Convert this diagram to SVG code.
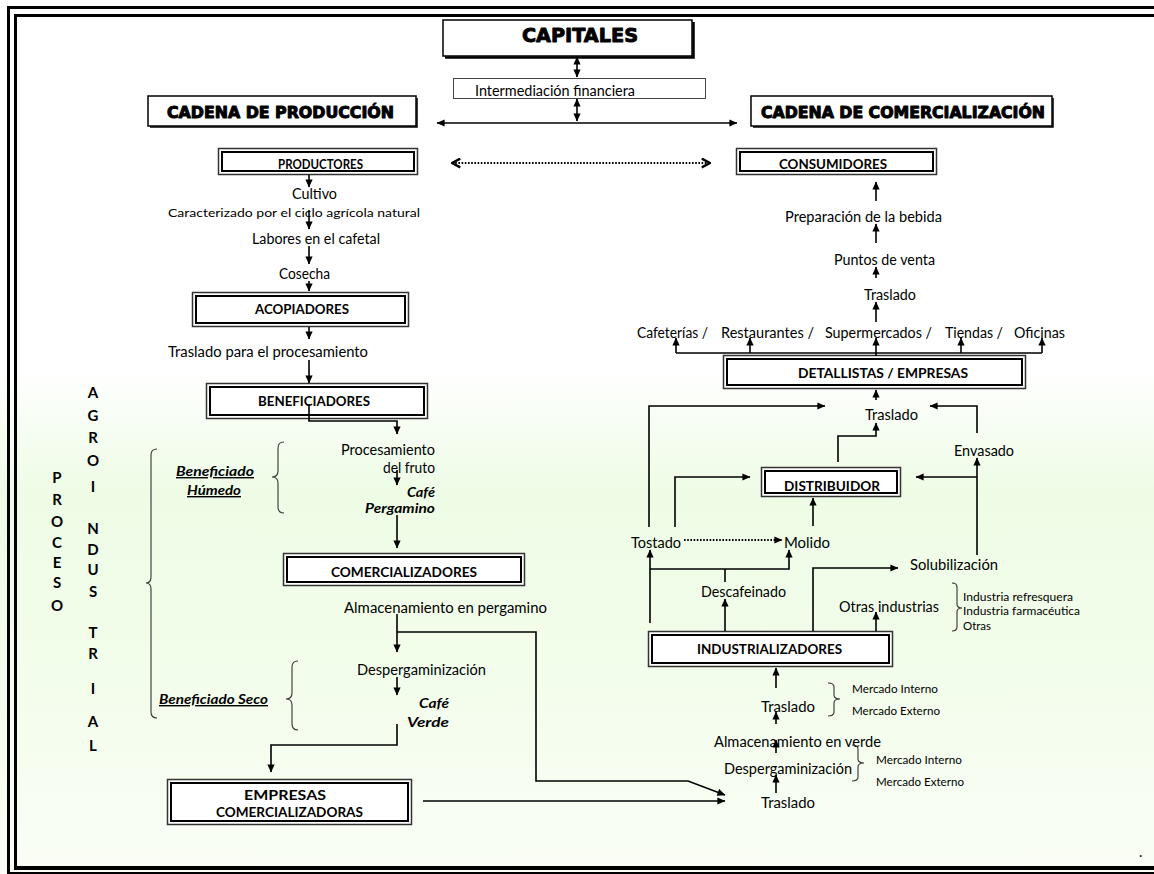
<svg xmlns="http://www.w3.org/2000/svg" width="1154" height="874" viewBox="0 0 1154 874">
<defs>
<linearGradient id="bg" x1="0" y1="0" x2="0" y2="1">
<stop offset="0" stop-color="#ffffff"/>
<stop offset="0.42" stop-color="#ffffff"/>
<stop offset="0.56" stop-color="#eefce6"/>
<stop offset="0.72" stop-color="#f1fde9"/>
<stop offset="1" stop-color="#fafef6"/>
</linearGradient>
<marker id="ah" viewBox="0 0 10 10" refX="9.5" refY="5" markerWidth="9" markerHeight="8" markerUnits="userSpaceOnUse" orient="auto-start-reverse">
<path d="M0,0.5 L10,5 L0,9.5 z" fill="#000"/>
</marker>
<marker id="ch" viewBox="0 0 10 10" refX="9" refY="5" markerWidth="11" markerHeight="11" markerUnits="userSpaceOnUse" orient="auto-start-reverse">
<path d="M1.5,1 L9,5 L1.5,9" fill="none" stroke="#000" stroke-width="2.2"/>
</marker>
</defs>
<style>
.ln{fill:none;stroke:#000;stroke-width:1.6}
.ar{marker-end:url(#ah)}
.da{marker-start:url(#ah);marker-end:url(#ah)}
.dot{fill:none;stroke:#000;stroke-width:1.8;stroke-dasharray:1.6 1.6}
.br{fill:none;stroke:#333;stroke-width:1.1}
.ob{fill:#fff;stroke:#333;stroke-width:1.5}
.ib{fill:none;stroke:#000;stroke-width:2}
.sb{fill:#fff;stroke:#000;stroke-width:1.5}
text{font-family:Lato,"Open Sans",sans-serif;fill:#000}
.m{font-size:14.5px}
.sm{font-size:12px}
.xs{font-size:11px}
.bx{font-size:13px;font-weight:bold}
.hd{font-family:"DejaVu Sans",sans-serif;font-weight:bold;stroke:#000;stroke-width:0.95;stroke-linejoin:round}
.bi{font-weight:bold;font-style:italic;font-size:14px}
.u{text-decoration:underline}
.lt{font-weight:bold;font-size:15px;text-anchor:middle}
</style>

<rect x="0" y="0" width="1154" height="874" fill="url(#bg)"/>

<g id="frame" fill="none" stroke="#000">
<path d="M7,7.5 H1154" stroke-width="3"/>
<path d="M8.5,6 V874" stroke-width="3"/>
<path d="M14,15.5 H1154" stroke-width="3"/>
<path d="M15.5,14 V868" stroke-width="3"/>
<path d="M14,868 H1154" stroke-width="4"/>
<path d="M7,873 H1154" stroke-width="2"/>
</g>

<g id="capitales">
<rect class="sb" x="443" y="20" width="249" height="36"/>
<path d="M693.5,22 V57.5 H445" fill="none" stroke="#000" stroke-width="2.5"/>
<text class="hd" x="522" y="42" font-size="20" textLength="116" lengthAdjust="spacingAndGlyphs">CAPITALES</text>
</g>

<g id="intermediacion">
<rect x="453.5" y="78.5" width="252" height="20" fill="#fff" stroke="#444" stroke-width="1"/>
<text class="m" x="475" y="96" font-size="14" textLength="160" lengthAdjust="spacingAndGlyphs">Intermediación financiera</text>
</g>

<g id="cadena-produccion">
<rect class="sb" x="148" y="96" width="268" height="30"/>
<path d="M417,98 V127 H150" fill="none" stroke="#000" stroke-width="1.5"/>
<text class="hd" x="167" y="118" font-size="15" textLength="227" lengthAdjust="spacingAndGlyphs">CADENA DE PRODUCCIÓN</text>
</g>

<g id="cadena-comercializacion">
<rect class="sb" x="751" y="96" width="301" height="30"/>
<path d="M1053,98 V127 H753" fill="none" stroke="#000" stroke-width="1.5"/>
<text class="hd" x="761" y="118" font-size="15" textLength="284" lengthAdjust="spacingAndGlyphs">CADENA DE COMERCIALIZACIÓN</text>
</g>

<g id="productores">
<rect class="ob" x="218.5" y="148.5" width="199" height="26"/>
<rect class="ib" x="222" y="152" width="192" height="19"/>
<text class="bx" x="278" y="169" textLength="85" lengthAdjust="spacingAndGlyphs">PRODUCTORES</text>
</g>

<g id="consumidores">
<rect class="ob" x="736.5" y="148.5" width="200" height="26"/>
<rect class="ib" x="740" y="152" width="193" height="19"/>
<text class="bx" x="779" y="169" textLength="108" lengthAdjust="spacingAndGlyphs">CONSUMIDORES</text>
</g>

<g id="acopiadores">
<rect class="ob" x="192.5" y="292.5" width="216" height="34"/>
<rect class="ib" x="196" y="296" width="209" height="27"/>
<text class="bx" x="255" y="314" textLength="94" lengthAdjust="spacingAndGlyphs">ACOPIADORES</text>
</g>

<g id="beneficiadores">
<rect class="ob" x="206.5" y="383.5" width="221" height="35"/>
<rect class="ib" x="210" y="387" width="214" height="28"/>
<text class="bx" x="258" y="406" textLength="112" lengthAdjust="spacingAndGlyphs">BENEFICIADORES</text>
</g>

<g id="comercializadores">
<rect class="ob" x="283.5" y="553.5" width="241" height="32"/>
<rect class="ib" x="287" y="557" width="234" height="25"/>
<text class="bx" x="331" y="577" textLength="146" lengthAdjust="spacingAndGlyphs">COMERCIALIZADORES</text>
</g>

<g id="empresas-comercializadoras">
<rect class="ob" x="167.5" y="779.5" width="244" height="45"/>
<rect class="ib" x="171" y="783" width="237" height="38"/>
<text class="bx" x="244" y="800" textLength="82" lengthAdjust="spacingAndGlyphs">EMPRESAS</text>
<text class="bx" x="216" y="817" textLength="147" lengthAdjust="spacingAndGlyphs">COMERCIALIZADORAS</text>
</g>

<g id="detallistas">
<rect class="ob" x="723.5" y="355.5" width="302" height="33"/>
<rect class="ib" x="727" y="359" width="295" height="26"/>
<text class="bx" x="798" y="378" textLength="170" lengthAdjust="spacingAndGlyphs">DETALLISTAS  / EMPRESAS</text>
</g>

<g id="distribuidor">
<rect class="ob" x="761.5" y="467.5" width="139" height="29"/>
<rect class="ib" x="765" y="471" width="132" height="22"/>
<text class="bx" x="784" y="491" textLength="96" lengthAdjust="spacingAndGlyphs">DISTRIBUIDOR</text>
</g>

<g id="industrializadores">
<rect class="ob" x="648.5" y="631.5" width="244" height="35"/>
<rect class="ib" x="652" y="635" width="237" height="28"/>
<text class="bx" x="697" y="654" textLength="145" lengthAdjust="spacingAndGlyphs">INDUSTRIALIZADORES</text>
</g>

<g id="labels-left">
<text class="m" x="292" y="199" textLength="45" lengthAdjust="spacingAndGlyphs">Cultivo</text>
<text class="sm" x="168" y="217" textLength="252" lengthAdjust="spacingAndGlyphs">Caracterizado por el ciclo agrícola natural</text>
<text class="m" x="252" y="244" textLength="128" lengthAdjust="spacingAndGlyphs">Labores en el cafetal</text>
<text class="m" x="279" y="279" textLength="51" lengthAdjust="spacingAndGlyphs">Cosecha</text>
<text class="m" x="168" y="357" textLength="200" lengthAdjust="spacingAndGlyphs">Traslado para el procesamiento</text>
<text class="m" x="341" y="455" textLength="94" lengthAdjust="spacingAndGlyphs">Procesamiento</text>
<text class="m" x="383" y="473" textLength="52" lengthAdjust="spacingAndGlyphs">del fruto</text>
<text class="bi" x="407" y="497" textLength="28" lengthAdjust="spacingAndGlyphs">Café</text>
<text class="bi" x="365" y="513" textLength="70" lengthAdjust="spacingAndGlyphs">Pergamino</text>
<text class="m" x="344" y="613" textLength="203" lengthAdjust="spacingAndGlyphs">Almacenamiento en pergamino</text>
<text class="m" x="357" y="675" textLength="129" lengthAdjust="spacingAndGlyphs">Despergaminización</text>
<text class="bi" x="419" y="708" textLength="30" lengthAdjust="spacingAndGlyphs">Café</text>
<text class="bi" x="407" y="727" textLength="42" lengthAdjust="spacingAndGlyphs">Verde</text>
<text class="bi u" x="176" y="476" textLength="78" lengthAdjust="spacingAndGlyphs">Beneficiado</text>
<text class="bi u" x="187" y="495" textLength="54" lengthAdjust="spacingAndGlyphs">Húmedo</text>
<text class="bi u" x="159" y="704" textLength="109" lengthAdjust="spacingAndGlyphs">Beneficiado Seco</text>
</g>

<g id="proceso-agroindustrial">
<text class="lt" x="57"><tspan x="57" y="483">P</tspan><tspan x="57" y="505">R</tspan><tspan x="57" y="527">O</tspan><tspan x="57" y="548">C</tspan><tspan x="57" y="568">E</tspan><tspan x="57" y="588">S</tspan><tspan x="57" y="611">O</tspan></text>
<text class="lt" x="93"><tspan x="93" y="398">A</tspan><tspan x="93" y="421">G</tspan><tspan x="93" y="443">R</tspan><tspan x="93" y="466">O</tspan><tspan x="93" y="492">I</tspan><tspan x="93" y="534">N</tspan><tspan x="93" y="555">D</tspan><tspan x="93" y="575">U</tspan><tspan x="93" y="597">S</tspan><tspan x="93" y="638">T</tspan><tspan x="93" y="659">R</tspan><tspan x="93" y="694">I</tspan><tspan x="93" y="727">A</tspan><tspan x="93" y="751">L</tspan></text>
</g>

<g id="labels-right">
<text class="m" x="785" y="222" textLength="157" lengthAdjust="spacingAndGlyphs">Preparación de la bebida</text>
<text class="m" x="834" y="265" textLength="101" lengthAdjust="spacingAndGlyphs">Puntos de venta</text>
<text class="m" x="864" y="300" textLength="52" lengthAdjust="spacingAndGlyphs">Traslado</text>
<text class="m" x="637" y="338" textLength="71" lengthAdjust="spacingAndGlyphs">Cafeterías /</text>
<text class="m" x="721" y="338" textLength="93" lengthAdjust="spacingAndGlyphs">Restaurantes /</text>
<text class="m" x="825" y="338" textLength="107" lengthAdjust="spacingAndGlyphs">Supermercados /</text>
<text class="m" x="945" y="338" textLength="58" lengthAdjust="spacingAndGlyphs">Tiendas /</text>
<text class="m" x="1014" y="338" textLength="51" lengthAdjust="spacingAndGlyphs">Oficinas</text>
<text class="m" x="865" y="420" textLength="53" lengthAdjust="spacingAndGlyphs">Traslado</text>
<text class="m" x="954" y="456" textLength="60" lengthAdjust="spacingAndGlyphs">Envasado</text>
<text class="m" x="631" y="548" textLength="50" lengthAdjust="spacingAndGlyphs">Tostado</text>
<text class="m" x="784" y="548" textLength="46" lengthAdjust="spacingAndGlyphs">Molido</text>
<text class="m" x="910" y="570" textLength="88" lengthAdjust="spacingAndGlyphs">Solubilización</text>
<text class="m" x="701" y="597" textLength="85" lengthAdjust="spacingAndGlyphs">Descafeinado</text>
<text class="m" x="839" y="612" textLength="100" lengthAdjust="spacingAndGlyphs">Otras industrias</text>
<text class="xs" x="963" y="601" textLength="110" lengthAdjust="spacingAndGlyphs">Industria refresquera</text>
<text class="xs" x="963" y="615" textLength="117" lengthAdjust="spacingAndGlyphs">Industria farmacéutica</text>
<text class="xs" x="963" y="630" textLength="28" lengthAdjust="spacingAndGlyphs">Otras</text>
<text class="m" x="761" y="712" textLength="54" lengthAdjust="spacingAndGlyphs">Traslado</text>
<text class="xs" x="852" y="693" textLength="86" lengthAdjust="spacingAndGlyphs">Mercado Interno</text>
<text class="xs" x="852" y="715" textLength="88" lengthAdjust="spacingAndGlyphs">Mercado Externo</text>
<text class="m" x="714" y="747" textLength="167" lengthAdjust="spacingAndGlyphs">Almacenamiento en verde</text>
<text class="m" x="724" y="774" textLength="128" lengthAdjust="spacingAndGlyphs">Despergaminización</text>
<text class="xs" x="876" y="764" textLength="86" lengthAdjust="spacingAndGlyphs">Mercado Interno</text>
<text class="xs" x="876" y="786" textLength="88" lengthAdjust="spacingAndGlyphs">Mercado Externo</text>
<text class="m" x="761" y="808" textLength="54" lengthAdjust="spacingAndGlyphs">Traslado</text>
<text class="m" x="1139" y="857">.</text>
</g>

<g id="braces">
<path class="br" d="M157,449 Q151,449 151,455 L151,577 Q151,583 146,583 Q151,583 151,589 L151,712 Q151,718 157,718"/>
<path class="br" d="M284,442 Q278,442 278,448 L278,471 Q278,477 272,477 Q278,477 278,483 L278,507 Q278,513 284,513"/>
<path class="br" d="M298,661 Q292,661 292,667 L292,693 Q292,699 286,699 Q292,699 292,705 L292,724 Q292,730 298,730"/>
<path class="br" d="M828,683 Q834,683 834,687 L834,695 Q834,699 840,699 Q834,699 834,703 L834,712 Q834,716 828,716"/>
<path class="br" d="M852,745 Q858,745 858,749 L858,759 Q858,763 864,763 Q858,763 858,767 L858,777 Q858,781 852,781"/>
<path class="br" d="M952,583 Q957,583 957,587 L957,604 Q957,608 962,608 Q957,608 957,612 L957,627 Q957,631 952,631"/>
</g>

<g id="connectors">
<path class="ln da" d="M577,57 V77"/>
<path class="ln da" d="M577,99 V121"/>
<path class="ln da" d="M437,123 H737"/>
<path class="dot" d="M452,163 H710" marker-start="url(#ch)" marker-end="url(#ch)"/>

<path class="ln ar" d="M309,175 V187"/>
<path class="ln ar" d="M309,210 V229"/>
<path class="ln ar" d="M309,246 V264"/>
<path class="ln ar" d="M309,281 V291"/>
<path class="ln ar" d="M309,327 V339"/>
<path class="ln ar" d="M309,360 V383"/>
<path class="ln ar" d="M309,404 V421 H397 V434"/>
<path class="ln ar" d="M397,470 V485"/>
<path class="ln ar" d="M397,515 V548"/>
<path class="ln ar" d="M397,614 V652"/>
<path class="ln ar" d="M397,632 H536 V781 H688 L725,795"/>
<path class="ln ar" d="M397,677 V695"/>
<path class="ln ar" d="M397,724 V745 H271 V772"/>
<path class="ln ar" d="M423,801 H725"/>

<path class="ln ar" d="M876,201 V182"/>
<path class="ln ar" d="M876,243 V224"/>
<path class="ln ar" d="M876,278 V267"/>
<path class="ln ar" d="M876,322 V302"/>
<path class="ln" d="M676,353 H1042"/>
<path class="ln ar" d="M676,353 V338"/>
<path class="ln ar" d="M750,353 V338"/>
<path class="ln ar" d="M876,356 V338"/>
<path class="ln ar" d="M961,353 V338"/>
<path class="ln ar" d="M1042,353 V338"/>
<path class="ln ar" d="M876,400 V390"/>
<path class="ln ar" d="M649,527 V406 H825"/>
<path class="ln ar" d="M977,433 V406 H930"/>
<path class="ln ar" d="M838,462 V436 H876 V423"/>
<path class="ln ar" d="M675,527 V477 H750"/>
<path class="ln ar" d="M977,555 V458"/>
<path class="ln ar" d="M977,477 H916"/>
<path class="dot" d="M684,540 H782" marker-end="url(#ah)"/>
<path class="ln ar" d="M813,526 V498"/>
<path class="ln ar" d="M650,623 V550"/>
<path class="ln ar" d="M650,569 H789 V550"/>
<path class="ln" d="M725,569 V582"/>
<path class="ln ar" d="M725,631 V599"/>
<path class="ln ar" d="M813,631 V568 H898"/>
<path class="ln ar" d="M876,631 V612"/>
<path class="ln ar" d="M776,688 V668"/>
<path class="ln ar" d="M776,724 V712"/>
<path class="ln ar" d="M776,753 V740"/>
<path class="ln ar" d="M776,793 V775"/>
</g>
</svg>
